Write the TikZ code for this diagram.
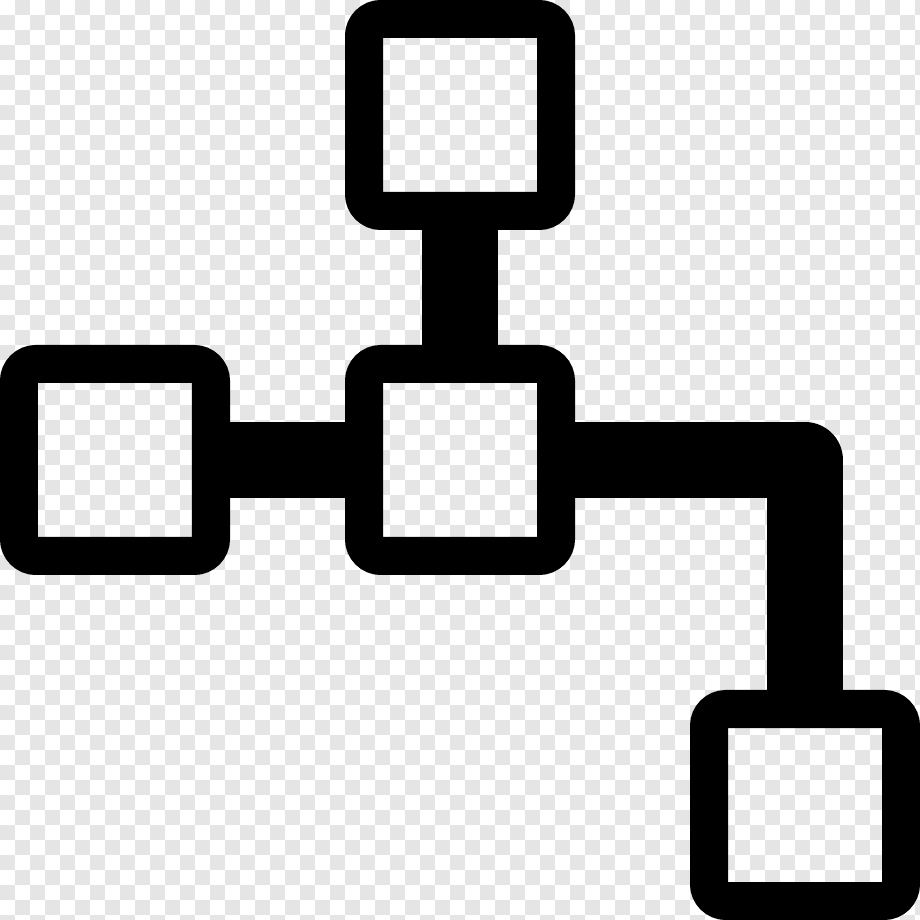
\documentclass[tikz,border=0pt]{standalone}
\definecolor{tilegray}{HTML}{E5E5E5}
\tikzset{
  box/.style={draw=black, line width=0.38cm, rounded corners=0.17cm, minimum size=1.92cm, inner sep=0pt},
  link/.style={draw=black, line width=0.76cm, line join=round}
}
\begin{document}
\begin{tikzpicture}
    \useasboundingbox (0, 0) rectangle (9.2, 9.2);
    % background tiles
    \begin{scope}
      \clip (0, 0) rectangle (9.2, 9.2);
      \fill[white] (0, 0) rectangle (9.2, 9.2);
      \foreach \i in {0,...,61} {
        \foreach \j in {0,...,61} {
          \pgfmathparse{int(mod(\i+\j, 2))}
          \ifnum\pgfmathresult=1
            \fill[tilegray] (\i*0.15, 9.2-\j*0.15) rectangle ++(0.15, -0.15);
          \fi
        }
      }
    \end{scope}
    \coordinate (T) at (4.6, 8.05);
    \coordinate (L) at (1.15, 4.6);
    \coordinate (M) at (4.6, 4.6);
    \coordinate (R) at (8.05, 1.15);
    \node[box] (nT) at (T) {};
    \node[box] (nL) at (L) {};
    \node[box] (nM) at (M) {};
    \node[box] (nR) at (R) {};
    \draw[link] (nT.south) -- (nM.north);
    \draw[link] (nL.east) -- (nM.west);
    \draw[link] (nM.east) -| (nR.north);
  \end{tikzpicture}
\end{document}
